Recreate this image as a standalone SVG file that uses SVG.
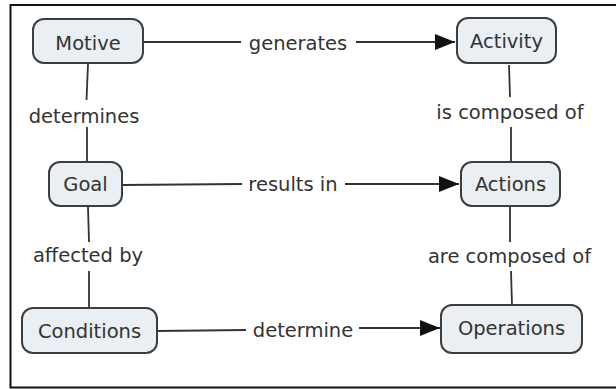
<svg xmlns="http://www.w3.org/2000/svg" width="616" height="389" viewBox="0 0 616 389">
<defs>
<style>
.node rect{fill:#e9eff2;stroke:#3d3d3d;stroke-width:2}
text{font-family:"DejaVu Sans",Verdana,sans-serif;font-size:19.5px;fill:#333;text-anchor:middle}
.conn line{stroke:#333;stroke-width:1.8;fill:none}
</style>
<marker id="arr" markerUnits="userSpaceOnUse" markerWidth="21" markerHeight="16" viewBox="0 0 21 16" refX="20" refY="8" orient="auto">
<path d="M0,0 L20,8 L0,16 Z" fill="#111"/>
</marker>
</defs>
<rect width="616" height="389" fill="#fff"/>
<path d="M616,5 H10.5 V387.5 H616" fill="none" stroke="#111" stroke-width="2"/>
<g class="conn" id="connectors">
<line x1="143" y1="42" x2="241" y2="42"/>
<line x1="356" y1="42" x2="455" y2="42" marker-end="url(#arr)"/>
<line x1="122" y1="185" x2="242" y2="184"/>
<line x1="345" y1="184" x2="459" y2="184" marker-end="url(#arr)"/>
<line x1="157" y1="331" x2="246" y2="330"/>
<line x1="359" y1="328" x2="440" y2="328" marker-end="url(#arr)"/>
<line x1="88" y1="64" x2="86.5" y2="100"/>
<line x1="87" y1="127" x2="87" y2="162"/>
<line x1="88" y1="207" x2="89" y2="242"/>
<line x1="89" y1="271" x2="89" y2="308"/>
<line x1="509" y1="65" x2="510" y2="97"/>
<line x1="511" y1="127" x2="511" y2="162"/>
<line x1="510" y1="207" x2="510" y2="242"/>
<line x1="511" y1="271" x2="512" y2="305"/>
<text x="298" y="50">generates</text>
<text x="293" y="191">results in</text>
<text x="303" y="337">determine</text>
<text x="84" y="123">determines</text>
<text x="88" y="262">affected by</text>
<text x="510" y="119">is composed of</text>
<text x="509.5" y="263">are composed of</text>
</g>
<g class="node" id="motive"><rect x="33" y="19" width="110" height="44" rx="11"/><text x="88" y="50">Motive</text></g>
<g class="node" id="goal"><rect x="49" y="162" width="73" height="44" rx="11"/><text x="85.5" y="191">Goal</text></g>
<g class="node" id="conditions"><rect x="22" y="308" width="135" height="45" rx="11"/><text x="89.5" y="338">Conditions</text></g>
<g class="node" id="activity"><rect x="457" y="18" width="99" height="45" rx="11"/><text x="506.5" y="48">Activity</text></g>
<g class="node" id="actions"><rect x="461" y="162" width="99" height="44" rx="11"/><text x="510.5" y="191">Actions</text></g>
<g class="node" id="operations"><rect x="441" y="305" width="141" height="48" rx="11"/><text x="511.5" y="335">Operations</text></g>
</svg>
